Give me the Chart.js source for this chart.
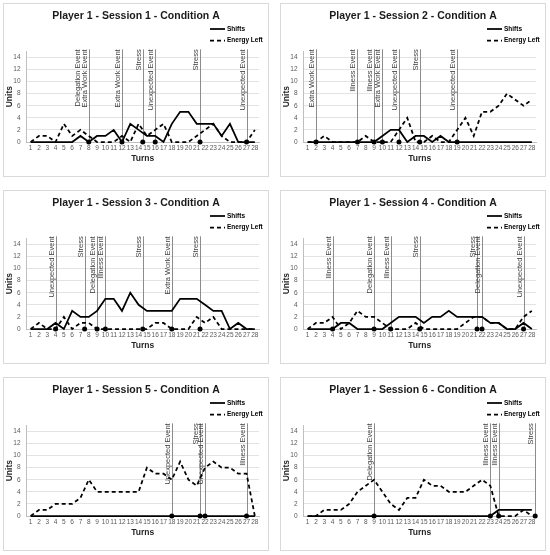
<!DOCTYPE html>
<html>
<head>
<meta charset="utf-8">
<script src="https://cdn.jsdelivr.net/npm/chart.js@4.4.1/dist/chart.umd.min.js"></script>
<style>
    body { margin: 0; background: #fff; }
    #board { position: relative; width: 550px; height: 555px; }
    .panel { position: absolute; width: 264px; height: 172px; border: 1px solid #d9d9d9; background: #fff; }
</style>
</head>
<body>
<div id="board"></div>
<script>
/* ============================================
   Player 1 — six sessions, Condition A
   ============================================ */

const turns = [1, 2, 3, 4, 5, 6, 7, 8, 9, 10, 11, 12, 13, 14, 15, 16, 17, 18, 19, 20, 21, 22, 23, 24, 25, 26, 27, 28];
const unitTicks = [0, 2, 4, 6, 8, 10, 12, 14];
const seriesNames = ['Shifts', 'Energy Left'];
const sessionTitles = [
    'Player 1 - Session 1 - Condition A', 'Player 1 - Session 2 - Condition A',
    'Player 1 - Session 3 - Condition A', 'Player 1 - Session 4 - Condition A',
    'Player 1 - Session 5 - Condition A', 'Player 1 - Session 6 - Condition A'
];

// Session 1
const s1Shifts = [0, 0, 0, 0, 0, 0, 1, 0, 1, 1, 2, 0, 3, 2, 1, 1, 0, 3, 5, 5, 3, 3, 3, 1, 3, 0, 0, 0];
const s1Energy = [0, 1, 1, 0, 3, 1, 2, 1, 0, 0, 0, 1, 0, 3, 1, 2, 3, 0, 0, 0, 1, 2, 3, 1, 0, 0, 0, 2];
const s1Events = [
    { at: 8, labels: ['Delegation Event', 'Extra Work Event'] }, { at: 12, labels: ['Extra Work Event'] },
    { at: 14.5, labels: ['Stress'] }, { at: 16, labels: ['Unexpected Event'] },
    { at: 21.4, labels: ['Stress'] }, { at: 27, labels: ['Unexpected Event'] }
];

// Session 2
const s2Shifts = [0, 0, 0, 0, 0, 0, 0, 0, 0, 1, 2, 2, 0, 1, 1, 0, 1, 0, 0, 0, 0, 0, 0, 0, 0, 0, 0, 0];
const s2Energy = [0, 0, 1, 0, 0, 0, 0, 1, 0, 0, 0, 2, 4, 0, 0, 1, 0, 0, 2, 4, 1, 5, 5, 6, 8, 7, 6, 7];
const s2Events = [
    { at: 2, labels: ['Extra Work Event'] }, { at: 7, labels: ['Illness Event'] },
    { at: 9, labels: ['Illness Event'] }, { at: 10, labels: ['Extra Work Event'] },
    { at: 12, labels: ['Unexpected Event'] }, { at: 14.5, labels: ['Stress'] },
    { at: 19, labels: ['Unexpected Event'] }
];

// Session 3
const s3Shifts = [0, 0, 0, 1, 0, 3, 2, 2, 3, 5, 5, 3, 6, 4, 3, 3, 3, 3, 5, 5, 5, 4, 3, 3, 0, 1, 0, 0];
const s3Energy = [0, 1, 0, 0, 2, 0, 1, 1, 0, 0, 0, 0, 0, 0, 0, 1, 1, 0, 0, 0, 2, 1, 2, 0, 0, 0, 0, 0];
const s3Events = [
    { at: 4, labels: ['Unexpected Event'] }, { at: 7.5, labels: ['Stress'] },
    { at: 9, labels: ['Delegation Event'] }, { at: 10, labels: ['Illness Event'] },
    { at: 14.5, labels: ['Stress'] }, { at: 18, labels: ['Extra Work Event'] },
    { at: 21.4, labels: ['Stress'] }
];

// Session 4
const s4Shifts = [0, 0, 0, 0, 1, 1, 0, 0, 0, 0, 1, 2, 2, 2, 1, 2, 2, 3, 2, 2, 2, 2, 1, 1, 0, 0, 1, 0];
const s4Energy = [0, 1, 1, 2, 0, 1, 3, 2, 2, 1, 0, 0, 0, 1, 0, 0, 0, 0, 0, 1, 2, 2, 1, 1, 0, 0, 2, 3];
const s4Events = [
    { at: 4, labels: ['Illness Event'] }, { at: 9, labels: ['Delegation Event'] },
    { at: 11, labels: ['Illness Event'] }, { at: 14.5, labels: ['Stress'] },
    { at: 21.4, labels: ['Stress'] }, { at: 22, labels: ['Delegation Event'] },
    { at: 27, labels: ['Unexpected Event'] }
];

// Session 5
const s5Shifts = [0, 0, 0, 0, 0, 0, 0, 0, 0, 0, 0, 0, 0, 0, 0, 0, 0, 0, 0, 0, 0, 0, 0, 0, 0, 0, 0, 0];
const s5Energy = [0, 1, 1, 2, 2, 2, 3, 6, 4, 4, 4, 4, 4, 4, 8, 7, 7, 6, 9, 6, 5, 8, 9, 8, 8, 7, 7, 0];
const s5Events = [
    { at: 18, labels: ['Unexpected Event'] }, { at: 21.4, labels: ['Stress'] },
    { at: 22, labels: ['Unexpected Event'] }, { at: 27, labels: ['Illness Event'] }
];

// Session 6
const s6Shifts = [0, 0, 0, 0, 0, 0, 0, 0, 0, 0, 0, 0, 0, 0, 0, 0, 0, 0, 0, 0, 0, 0, 0, 1, 1, 1, 1, 1];
const s6Energy = [0, 0, 1, 1, 1, 2, 4, 5, 6, 4, 2, 1, 3, 3, 6, 5, 5, 4, 4, 4, 5, 6, 5, 0, 0, 0, 1, 0];
const s6Events = [
    { at: 9, labels: ['Delegation Event'] }, { at: 23, labels: ['Illness Event'] },
    { at: 24, labels: ['Illness Event'] }, { at: 28.4, labels: ['Stress'] }
];

const FONT = '"Liberation Sans", Arial, sans-serif';
Chart.defaults.font.family = FONT;

// vertical event lines + rotated captions, drawn under the series
const eventMarkers = {
    id: 'eventMarkers',
    beforeDatasetsDraw(chart, args, opts) {
        const { ctx, chartArea } = chart;
        const xs = chart.scales.x, ys = chart.scales.y;
        const base = ys.getPixelForValue(0);
        const top = chartArea.top - 2;
        ctx.save();
        (opts.events || []).forEach(ev => {
            const px = Math.round(xs.getPixelForValue(ev.at)) + 0.5;
            ctx.strokeStyle = '#8c8c8c'; ctx.lineWidth = 1;
            ctx.beginPath(); ctx.moveTo(px, base); ctx.lineTo(px, top); ctx.stroke();
            ctx.font = `7.5px ${FONT}`; ctx.fillStyle = '#404040';
            ctx.textAlign = 'right'; ctx.textBaseline = 'bottom';
            ev.labels.slice().reverse().forEach((txt, i) => {
                ctx.save();
                ctx.translate(px - 0.5 - i * 7.5, top);
                ctx.rotate(-Math.PI / 2);
                ctx.fillText(txt, 0, 0);
                ctx.restore();
            });
        });
        ctx.restore();
    }
};

// two-row legend in the top right corner
const cornerLegend = {
    id: 'cornerLegend',
    afterDraw(chart) {
        const { ctx, chartArea } = chart;
        const left = chartArea.right - 49;
        const items = chart.data.datasets.filter(d => d.type !== 'scatter');
        ctx.save();
        items.forEach((d, i) => {
            const y = 25 + i * 11.5;
            ctx.strokeStyle = d.borderColor; ctx.lineWidth = d.borderWidth;
            ctx.setLineDash(d.borderDash || []);
            ctx.beginPath(); ctx.moveTo(left, y); ctx.lineTo(left + 15, y); ctx.stroke();
            ctx.setLineDash([]);
            ctx.font = `bold 6.5px ${FONT}`; ctx.fillStyle = '#000'; ctx.textBaseline = 'middle'; ctx.textAlign = 'left';
            ctx.fillText(d.label, left + 17, y);
        });
        ctx.restore();
    }
};

const Dashboard = {
    spots: [[3, 3], [280, 3], [3, 190], [280, 190], [3, 377], [280, 377]],

    render() {
        const sessions = [
            { shifts: s1Shifts, energy: s1Energy, events: s1Events },
            { shifts: s2Shifts, energy: s2Energy, events: s2Events },
            { shifts: s3Shifts, energy: s3Energy, events: s3Events },
            { shifts: s4Shifts, energy: s4Energy, events: s4Events },
            { shifts: s5Shifts, energy: s5Energy, events: s5Events },
            { shifts: s6Shifts, energy: s6Energy, events: s6Events }
        ];
        const board = document.getElementById('board');
        sessions.forEach((s, i) => {
            const div = document.createElement('div');
            div.className = 'panel';
            div.style.left = this.spots[i][0] + 'px';
            div.style.top = this.spots[i][1] + 'px';
            div.innerHTML = `<canvas width="264" height="172"></canvas>`;
            board.appendChild(div);
            this._chart(div.querySelector('canvas'), sessionTitles[i], s);
        });
    },

    _pts(vals) { return turns.map((t, i) => ({ x: t, y: vals[i] })); },

    _chart(canvas, title, s) {
        const tickFont = { size: 6.5, family: FONT };
        const axisTitle = { size: 8.5, weight: 'bold', family: FONT };
        new Chart(canvas, {
            type: 'line',
            data: {
                datasets: [
                    { type: 'scatter', data: s.events.map(e => ({ x: e.at, y: 0 })), pointRadius: 2.5,
                      pointBackgroundColor: '#000', pointBorderWidth: 0, order: 0, clip: false },
                    { label: seriesNames[0], data: this._pts(s.shifts), borderColor: '#000', borderWidth: 1.75,
                      pointRadius: 0, tension: 0, order: 1, clip: false },
                    { label: seriesNames[1], data: this._pts(s.energy), borderColor: '#000', borderWidth: 1.75,
                      borderDash: [4, 3], pointRadius: 0, tension: 0, order: 2, clip: false }
                ]
            },
            options: {
                responsive: false, animation: false, devicePixelRatio: 1,
                layout: { padding: 0 },
                plugins: {
                    legend: { display: false }, tooltip: { enabled: false },
                    title: { display: true, text: title, color: '#1a1a1a',
                             font: { size: 10.5, weight: 'bold', family: FONT }, padding: { top: 5.5, bottom: 29.2 } },
                    eventMarkers: { events: s.events }
                },
                scales: {
                    x: {
                        type: 'linear', min: 0.5, max: 28.5,
                        afterBuildTicks: sc => { sc.ticks = turns.map(v => ({ value: v })); },
                        afterFit: sc => { sc.height = 34; sc.paddingRight = 9; sc.paddingLeft = 0; },
                        grid: { display: false, drawTicks: false },
                        border: { display: true, color: '#bfbfbf', width: 1 },
                        ticks: { font: tickFont, color: '#595959', padding: 2, maxRotation: 0, autoSkip: false },
                        title: { display: true, text: 'Turns', color: '#262626', font: axisTitle, padding: { top: 0, bottom: 12 } }
                    },
                    y: {
                        min: 0, max: 15,
                        afterBuildTicks: sc => { sc.ticks = unitTicks.map(v => ({ value: v })); },
                        afterFit: sc => { sc.width = 22.5; },
                        grid: { color: '#d9d9d9', lineWidth: 0.75, drawTicks: false },
                        border: { display: true, color: '#bfbfbf', width: 1 },
                        ticks: { font: tickFont, color: '#595959', padding: 6 },
                        title: { display: true, text: 'Units', color: '#262626', font: axisTitle, padding: { top: 1, bottom: 0 } }
                    }
                }
            },
            plugins: [eventMarkers, cornerLegend]
        });
    }
};

Dashboard.render();
</script>
</body>
</html>
